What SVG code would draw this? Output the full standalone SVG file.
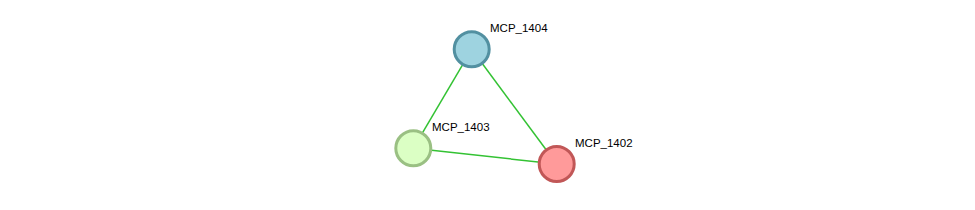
<svg xmlns="http://www.w3.org/2000/svg" width="975" height="210" viewBox="0 0 975 210">
<style>
.edge{stroke:#33c233;stroke-width:1.5;fill:none}
.node{stroke-width:3}
.lbl{font-family:"Liberation Sans",Arial,sans-serif;font-size:11.5px;fill:#000}
</style>
<rect width="975" height="210" fill="#fff"/>
<g id="connectors">
<line class="edge" x1="471.7" y1="49.3" x2="413.3" y2="148.3"/>
<line class="edge" x1="471.7" y1="49.3" x2="556.7" y2="164"/>
<line class="edge" x1="413.3" y1="148.3" x2="556.7" y2="164"/>
</g>
<g id="MCP_1404">
<circle class="node" cx="471.7" cy="49.3" r="17.5" fill="#9ed3e0" stroke="#5290a1"/>
<text class="lbl" x="490" y="32">MCP_1404</text>
</g>
<g id="MCP_1403">
<circle class="node" cx="413.3" cy="148.3" r="17.5" fill="#dbffc4" stroke="#9ac083"/>
<text class="lbl" x="432" y="131">MCP_1403</text>
</g>
<g id="MCP_1402">
<circle class="node" cx="556.7" cy="164" r="17.5" fill="#ff9a9a" stroke="#c15757"/>
<text class="lbl" x="575" y="147">MCP_1402</text>
</g>
</svg>
